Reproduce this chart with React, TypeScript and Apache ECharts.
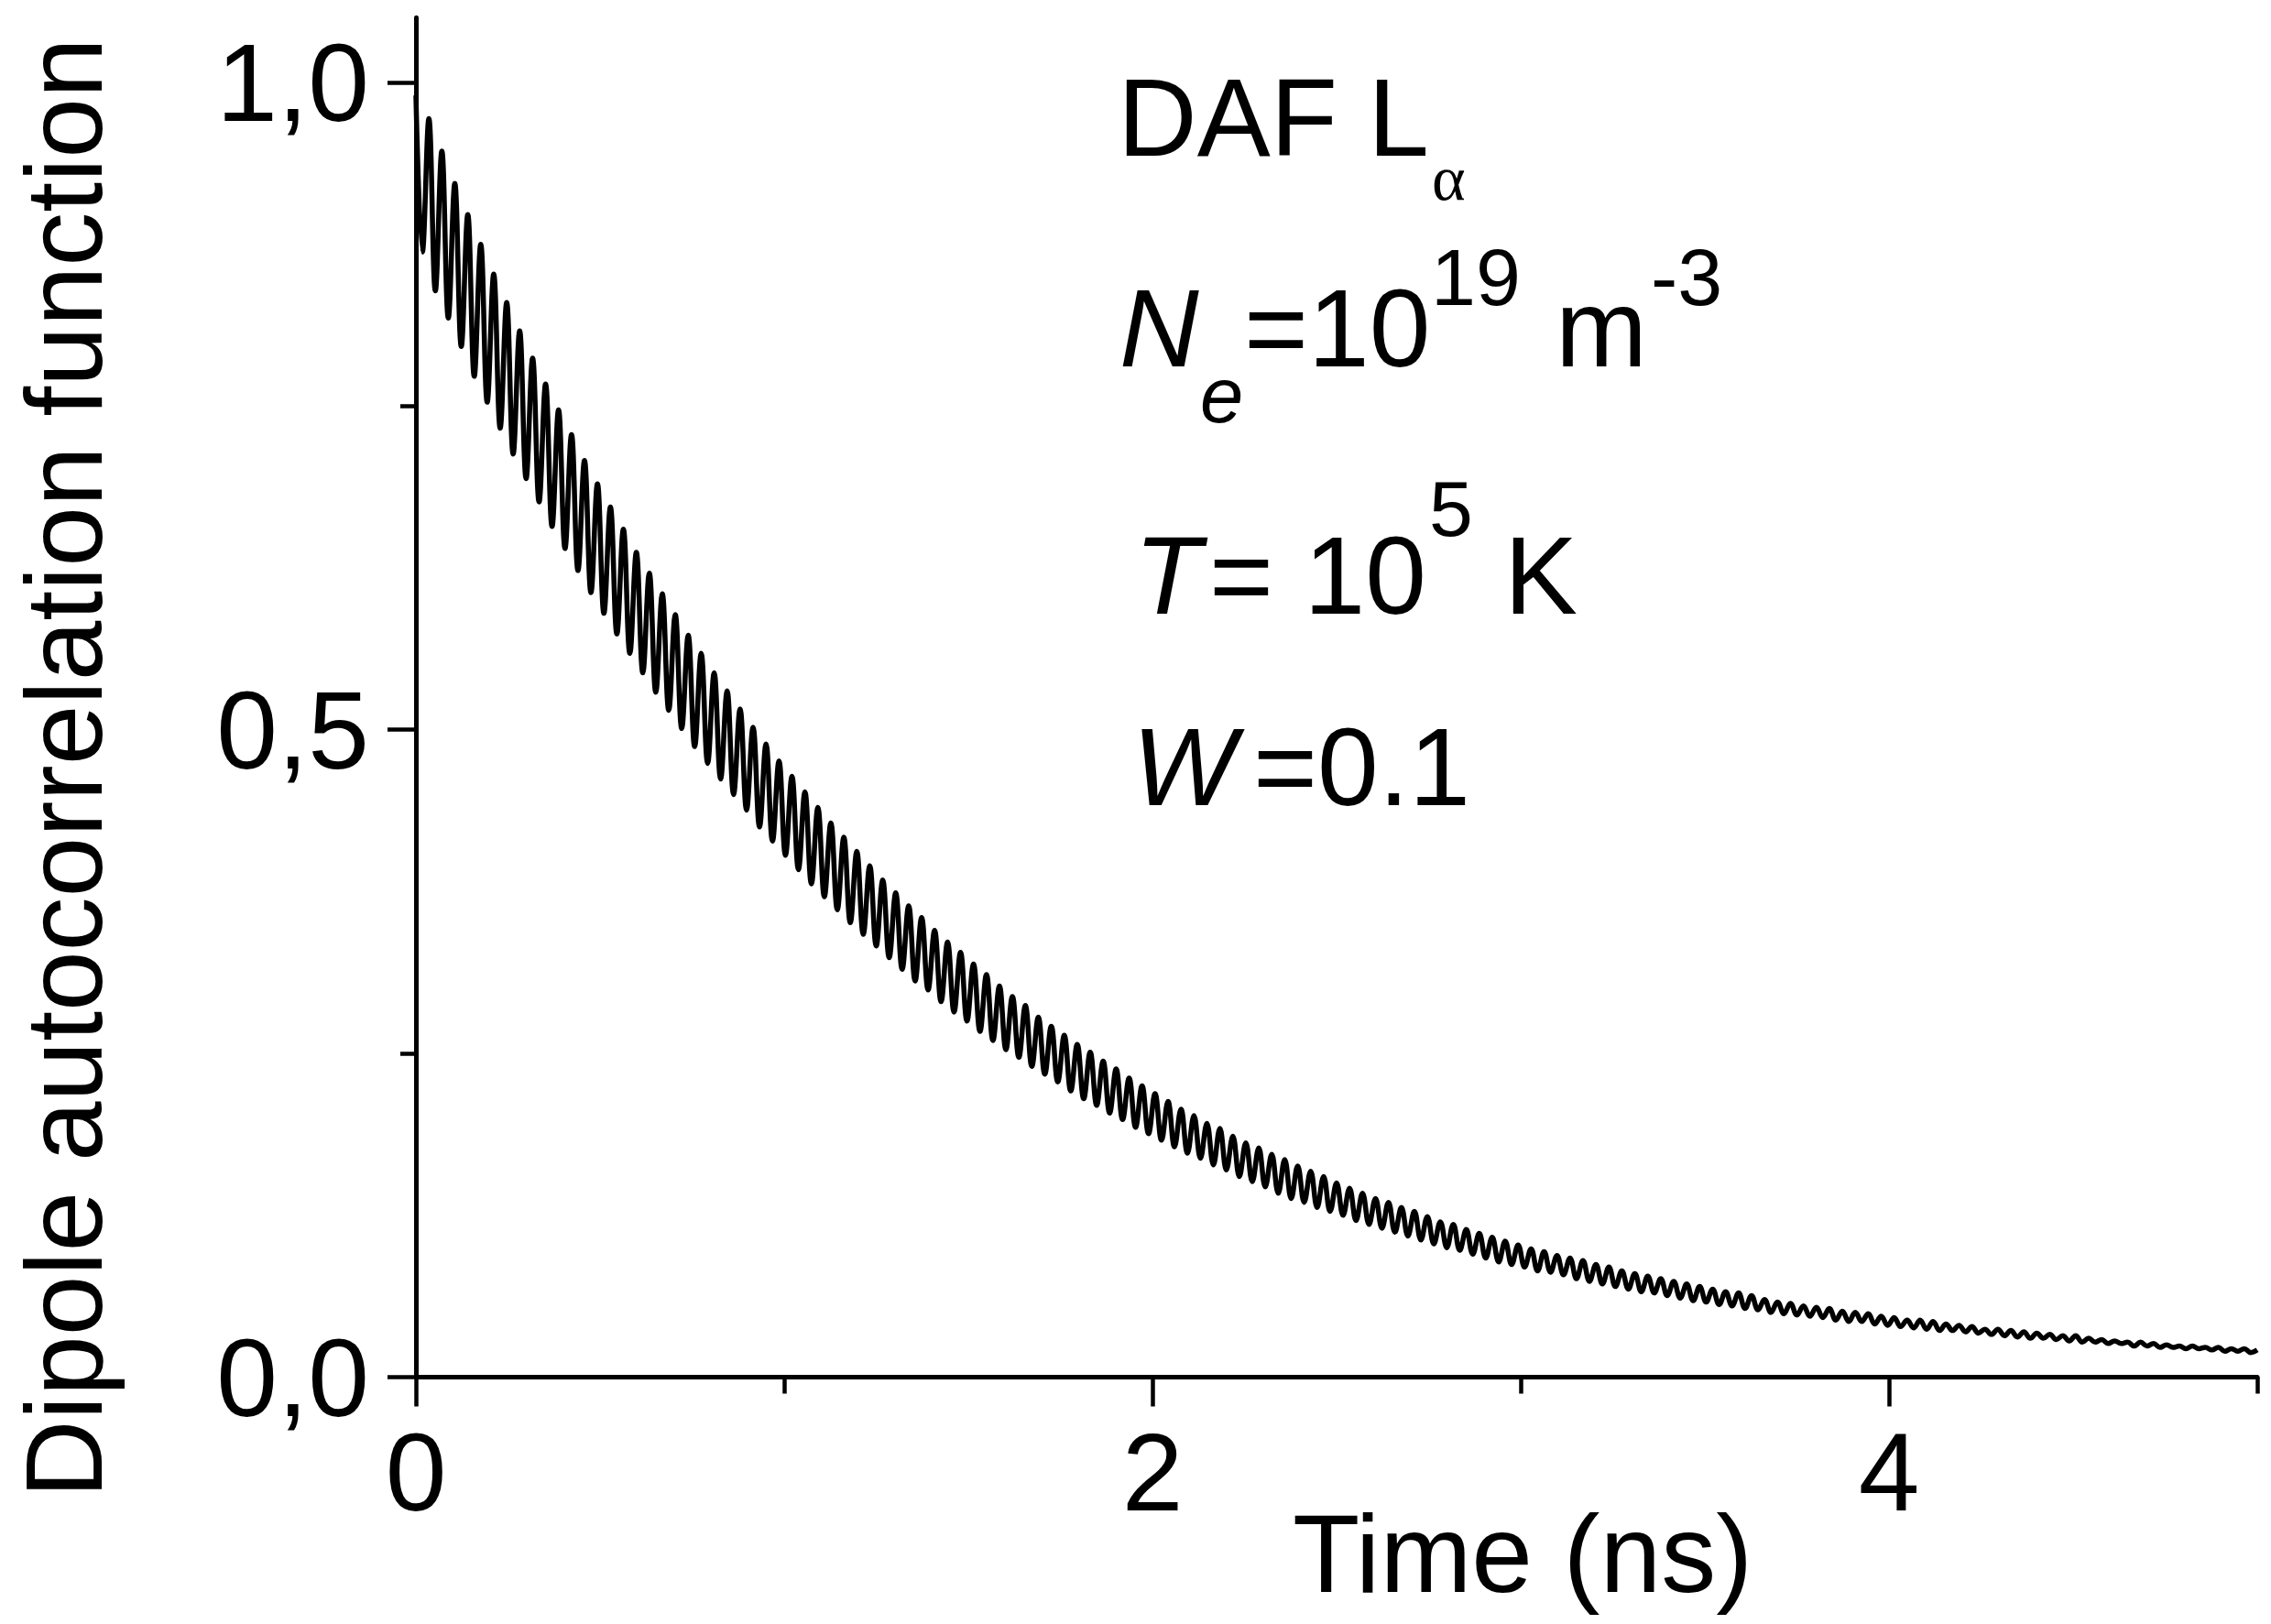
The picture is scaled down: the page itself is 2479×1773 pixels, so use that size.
import React, { useEffect, useRef } from 'react';
import * as echarts from 'echarts';

// Axis ranges and tick positions
const X_MIN = 0;
const X_MAX = 5;
const Y_MIN = 0;
const Y_MAX = 1.05;
const X_MAJOR_TICKS = [0, 2, 4];
const X_MINOR_TICKS = [1, 3, 5];
const Y_MAJOR_TICKS = [0, 0.5, 1.0];
const Y_MINOR_TICKS = [0.25, 0.75];

// Oscillation period of the curve (142 periods over 5 ns)
const OSC_PERIOD_NS = 5 / 142;

// Successive maxima of the curve (one per period, starting at t = 0)
const PEAK_VALUES = [
  0.990, 0.972, 0.947, 0.922, 0.898, 0.875, 0.852, 0.830, 0.808, 0.787,
  0.767, 0.747, 0.728, 0.708, 0.690, 0.672, 0.655, 0.637, 0.621, 0.605,
  0.589, 0.573, 0.559, 0.544, 0.530, 0.516, 0.502, 0.489, 0.476, 0.464,
  0.452, 0.440, 0.428, 0.417, 0.406, 0.395, 0.384, 0.374, 0.364, 0.355,
  0.345, 0.336, 0.328, 0.319, 0.311, 0.302, 0.294, 0.287, 0.278, 0.271,
  0.264, 0.257, 0.251, 0.244, 0.238, 0.231, 0.225, 0.219, 0.213, 0.207,
  0.202, 0.196, 0.192, 0.186, 0.181, 0.177, 0.172, 0.168, 0.163, 0.159,
  0.155, 0.150, 0.146, 0.142, 0.138, 0.135, 0.131, 0.128, 0.124, 0.120,
  0.118, 0.114, 0.111, 0.108, 0.105, 0.102, 0.099, 0.097, 0.094, 0.092,
  0.090, 0.087, 0.085, 0.082, 0.080, 0.078, 0.076, 0.074, 0.072, 0.070,
  0.068, 0.066, 0.065, 0.063, 0.060, 0.058, 0.057, 0.055, 0.054, 0.053,
  0.051, 0.050, 0.049, 0.047, 0.046, 0.044, 0.044, 0.043, 0.041, 0.040,
  0.039, 0.037, 0.037, 0.036, 0.035, 0.034, 0.033, 0.032, 0.032, 0.030,
  0.029, 0.028, 0.027, 0.027, 0.026, 0.025, 0.024, 0.024, 0.023, 0.023,
  0.022, 0.022, 0.021,
];

// Successive minima of the curve (half a period after each maximum)
const TROUGH_VALUES = [
  0.869, 0.839, 0.818, 0.796, 0.773, 0.753, 0.733, 0.713, 0.694, 0.676,
  0.657, 0.640, 0.623, 0.606, 0.590, 0.574, 0.559, 0.544, 0.529, 0.515,
  0.501, 0.487, 0.474, 0.462, 0.450, 0.438, 0.425, 0.414, 0.403, 0.392,
  0.381, 0.371, 0.361, 0.351, 0.342, 0.333, 0.324, 0.315, 0.306, 0.299,
  0.290, 0.282, 0.275, 0.267, 0.260, 0.253, 0.247, 0.240, 0.234, 0.228,
  0.221, 0.215, 0.210, 0.204, 0.199, 0.193, 0.188, 0.183, 0.178, 0.173,
  0.169, 0.164, 0.160, 0.155, 0.151, 0.147, 0.142, 0.138, 0.135, 0.131,
  0.128, 0.125, 0.121, 0.118, 0.115, 0.112, 0.109, 0.106, 0.103, 0.100,
  0.098, 0.095, 0.092, 0.089, 0.087, 0.085, 0.082, 0.081, 0.079, 0.076,
  0.074, 0.072, 0.070, 0.068, 0.066, 0.065, 0.063, 0.061, 0.059, 0.058,
  0.056, 0.055, 0.053, 0.052, 0.050, 0.049, 0.048, 0.047, 0.046, 0.044,
  0.043, 0.043, 0.041, 0.040, 0.039, 0.038, 0.037, 0.036, 0.036, 0.035,
  0.034, 0.033, 0.032, 0.031, 0.030, 0.030, 0.029, 0.028, 0.027, 0.027,
  0.026, 0.026, 0.024, 0.024, 0.023, 0.023, 0.022, 0.022, 0.021, 0.020,
  0.020, 0.019,
];

const X_TITLE = 'Time (ns)';
const Y_TITLE = 'Dipole autocorrelation function';

const FONT = 'Liberation Sans';
const SERIF = 'Liberation Serif';

function buildPoints(): number[][] {
  const pts: number[][] = [];
  for (let j = 0; j < PEAK_VALUES.length; j++) {
    pts.push([j * OSC_PERIOD_NS, PEAK_VALUES[j]]);
    if (j < TROUGH_VALUES.length) {
      pts.push([(j + 0.5) * OSC_PERIOD_NS, TROUGH_VALUES[j]]);
    }
  }
  return pts;
}

function txt(
  text: string,
  x: number,
  baseline: number,
  size: number,
  opts: { italic?: boolean; family?: string; ratio?: number } = {}
) {
  const ratio = opts.ratio ?? 0.3465;
  return {
    type: 'text',
    x,
    y: baseline - ratio * size,
    silent: true,
    style: {
      text,
      fill: '#000',
      fontSize: size,
      fontFamily: opts.family ?? FONT,
      fontStyle: opts.italic ? 'italic' : 'normal',
      align: 'left',
      verticalAlign: 'middle',
      textAlign: 'left',
      textVerticalAlign: 'middle',
    },
  };
}

export default function App() {
  const ref = useRef<HTMLDivElement>(null);

  useEffect(() => {
    if (!ref.current) return;
    const chart = echarts.init(ref.current, undefined, { renderer: 'svg' });

    const axisLineStyle = { color: '#000', width: 5, cap: 'round' };
    const tickStyle = { color: '#000', width: 4.5 };

    const option: any = {
      animation: false,
      backgroundColor: '#fff',
      grid: {
        left: 454,
        right: 15,
        top: 19.3,
        bottom: 269.5,
        containLabel: false,
        outerBoundsMode: 'none',
      },
      xAxis: [
        {
          type: 'value',
          min: X_MIN,
          max: X_MAX,
          position: 'bottom',
          name: X_TITLE,
          nameLocation: 'middle',
          nameGap: 132,
          nameMoveOverlap: false,
          nameTextStyle: {
            fontFamily: FONT,
            fontSize: 120,
            color: '#000',
            padding: [0, 0, 0, 406],
          },
          axisLine: { show: true, onZero: false, lineStyle: axisLineStyle },
          axisTick: {
            show: true,
            inside: false,
            length: 32,
            customValues: X_MAJOR_TICKS,
            lineStyle: tickStyle,
          },
          axisLabel: {
            show: true,
            customValues: X_MAJOR_TICKS,
            margin: 43.5,
            fontFamily: FONT,
            fontSize: 120,
            color: '#000',
            formatter: (v: number) => String(v),
          },
          splitLine: { show: false },
        },
        {
          type: 'value',
          min: X_MIN,
          max: X_MAX,
          position: 'bottom',
          axisLine: { show: false, onZero: false },
          axisTick: {
            show: true,
            inside: false,
            length: 18,
            customValues: X_MINOR_TICKS,
            lineStyle: tickStyle,
          },
          axisLabel: { show: false },
          splitLine: { show: false },
        },
      ],
      yAxis: [
        {
          type: 'value',
          min: Y_MIN,
          max: Y_MAX,
          position: 'left',
          name: Y_TITLE,
          nameLocation: 'middle',
          nameGap: 325,
          nameMoveOverlap: false,
          nameTextStyle: {
            fontFamily: FONT,
            fontSize: 118,
            color: '#000',
            padding: [0, 154, 0, 0],
          },
          axisLine: { show: true, onZero: false, lineStyle: axisLineStyle },
          axisTick: {
            show: true,
            inside: false,
            length: 31,
            customValues: Y_MAJOR_TICKS,
            lineStyle: tickStyle,
          },
          axisLabel: {
            show: true,
            customValues: Y_MAJOR_TICKS,
            margin: 51,
            padding: [0, 0, 12, 0],
            fontFamily: FONT,
            fontSize: 120,
            color: '#000',
            formatter: (v: number) => v.toFixed(1).replace('.', ','),
          },
          splitLine: { show: false },
        },
        {
          type: 'value',
          min: Y_MIN,
          max: Y_MAX,
          position: 'left',
          axisLine: { show: false, onZero: false },
          axisTick: {
            show: true,
            inside: false,
            length: 17,
            customValues: Y_MINOR_TICKS,
            lineStyle: tickStyle,
          },
          axisLabel: { show: false },
          splitLine: { show: false },
        },
      ],
      series: [
        {
          type: 'line',
          xAxisIndex: 0,
          yAxisIndex: 0,
          data: buildPoints(),
          showSymbol: false,
          symbol: 'none',
          smooth: 0.4,
          lineStyle: { color: '#000', width: 5.5 },
          z: 3,
        },
      ],
      graphic: [
        txt('DAF L', 1220, 170, 120),
        txt('α', 1563, 218, 70, { family: SERIF, ratio: 0.3375 }),
        txt('N', 1222, 400, 120, { italic: true }),
        txt('e', 1310, 461, 85, { italic: true }),
        txt('=10', 1358, 400, 120),
        txt('19', 1562, 333, 88),
        txt('m', 1698, 400, 120),
        txt('-3', 1802, 333, 88),
        txt('T', 1238, 670, 120, { italic: true }),
        txt('= 10', 1320, 670, 120),
        txt('5', 1560, 585, 86),
        txt('K', 1642, 670, 120),
        txt('W', 1236, 879, 120, { italic: true }),
        txt('=0.1', 1368, 879, 120),
      ],
    };

    chart.setOption(option);
    return () => chart.dispose();
  }, []);

  return (
    <div
      ref={ref}
      style={{
        position: 'fixed',
        left: 0,
        top: 0,
        width: '2479px',
        height: '1773px',
        background: '#fff',
      }}
    />
  );
}
